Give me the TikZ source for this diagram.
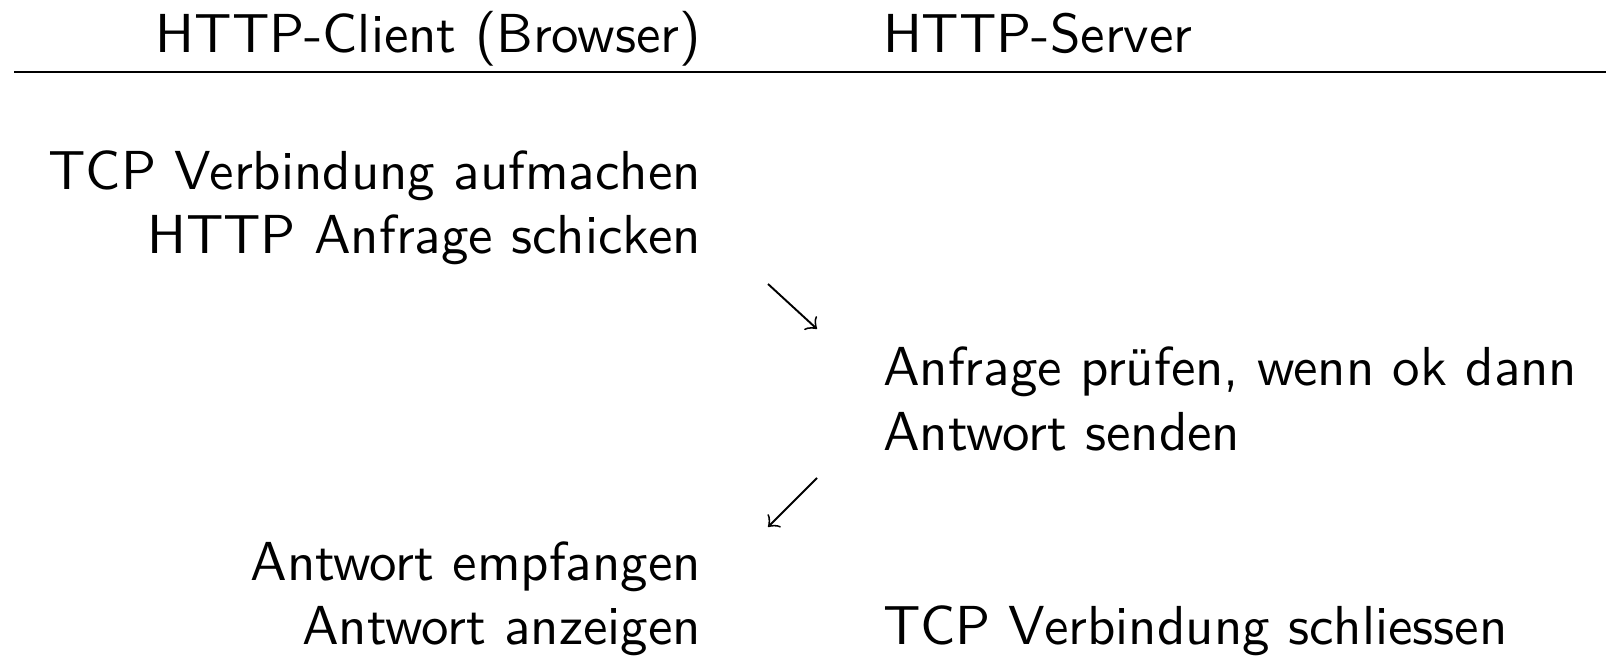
\documentclass[tikz,border=0pt]{standalone}
\begin{document}
\begin{tikzpicture}[x=0.182pt,y=-0.182pt,
  every node/.style={font=\sffamily\fontsize{10}{12}\selectfont, inner sep=0pt, outer sep=0pt},
  lt/.style={anchor=base east},
  rt/.style={anchor=base west},
  flow/.style={->, line width=0.35pt},
  rulex/.style={line width=0.45pt}]
\useasboundingbox (0,0) rectangle (1606,658);
\node[lt] (hc) at (701,53) {HTTP-Client (Browser)};
\node[rt] (hs) at (883,53) {HTTP-Server};
\coordinate (r1) at (14,72);
\coordinate (r2) at (1606,72);
\draw[rulex] (r1) -- (r2);
\node[lt] (c1) at (701,190) {TCP Verbindung aufmachen};
\node[lt] (c2) at (701,254) {HTTP Anfrage schicken};
\node[rt] (s1) at (883,386) {Anfrage prüfen, wenn ok dann};
\node[rt] (s2) at (883,451) {Antwort senden};
\node[lt] (c3) at (701,581) {Antwort empfangen};
\node[lt] (c4) at (701,645) {Antwort anzeigen};
\node[rt] (s3) at (883,645) {TCP Verbindung schliessen};
\coordinate (a1s) at (768,284);
\coordinate (a1e) at (817,329);
\coordinate (a2s) at (817,478);
\coordinate (a2e) at (768,527);
\draw[flow] (a1s) -- (a1e);
\draw[flow] (a2s) -- (a2e);
\end{tikzpicture}
\end{document}
